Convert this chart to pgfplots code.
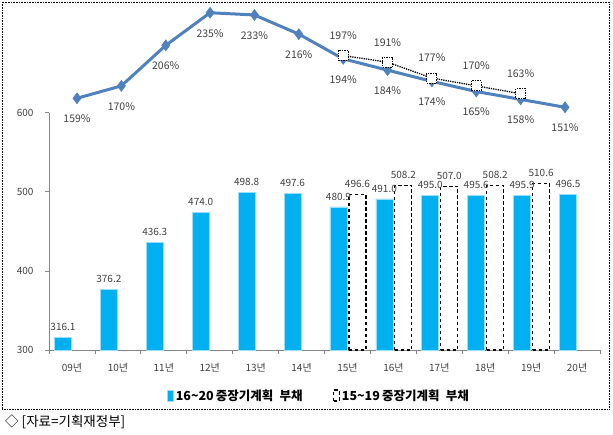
\documentclass[border=0pt]{standalone}
\usepackage{pgfplots}
\pgfplotsset{compat=1.18}
\usepackage{fontspec}
\setmainfont{Noto Sans CJK KR}
\definecolor{barblue}{RGB}{0,176,240}
\definecolor{lineblue}{RGB}{79,129,189}
\definecolor{txt}{RGB}{64,64,64}
\definecolor{axgray}{RGB}{134,134,134}
\begin{document}
\begin{tikzpicture}[x=1pt,y=1pt]
\useasboundingbox (0,0) rectangle (613,434);
\draw[densely dotted, line width=0.6pt] (2,25) rectangle (609,432);
\node[anchor=west, font=\fontsize{13.5}{15}\selectfont, text=black, inner sep=0pt] at (5,12.3) {◇ [자료=기획재정부]};

\begin{axis}[
  at={(49pt,84pt)}, anchor=south west,
  scale only axis, width=551pt, height=237.3pt,
  xmin=-0.5, xmax=11.5, ymin=300, ymax=600,
  axis lines*=left, axis line style={draw=axgray, line width=0.8pt},
  tick align=outside, major tick length=4pt,
  tick style={draw=axgray, line width=0.8pt},
  ytick={300,400,500,600},
  yticklabel style={font=\fontsize{10}{12}\selectfont, text=txt, xshift=-8pt},
  xtick={-0.5,0.5,...,11.5},
  xticklabels={09년,10년,11년,12년,13년,14년,15년,16년,17년,18년,19년,20년,{}},
  xticklabel style={font=\fontsize{10}{12}\selectfont, text=txt, xshift=23pt, yshift=-6pt},
  /pgf/number format/assume math mode=true,
  ybar, bar width=17pt,
  nodes near coords={\pgfmathprintnumber[fixed,fixed zerofill,precision=1]{\pgfplotspointmeta}},
  every node near coord/.append style={font=\fontsize{10}{12}\selectfont, text=txt, anchor=south, yshift=3pt},
  legend style={at={(0.49,-0.194)}, anchor=center, draw=none, fill=none,
    font=\bfseries\fontsize{12.5}{14}\selectfont, text=black,
    /tikz/every even column/.append style={column sep=28pt}},
  legend columns=2,
  legend image code/.code={\draw[#1] (0pt,-5pt) rectangle (6pt,6pt);},
  clip=false,
]
\addplot[bar shift=-9pt, fill=barblue, draw=barblue!40, line width=0.6pt]
coordinates {(0,316.1)(1,376.2)(2,436.3)(3,474.0)(4,498.8)(5,497.6)(6,480.9)(7,491.0)(8,495.0)(9,495.6)(10,495.9)(11,496.5)};
\addlegendentry{16\textasciitilde20\,중장기계획\hspace{0.5em}부채}
\addplot[bar shift=10pt, fill=white, draw=black, dash pattern=on 3.5pt off 2.5pt, line width=1.2pt]
coordinates {(6,496.6)(7,508.2)(8,507.0)(9,508.2)(10,510.6)};
\addlegendentry{15\textasciitilde19\,중장기계획\hspace{0.5em}부채}
\end{axis}

\begin{axis}[
  at={(77pt,325.6pt)}, anchor=south west,
  scale only axis, width=488pt, height=101.3pt,
  xmin=0, xmax=11, ymin=150, ymax=240,
  hide axis, clip=false,
  /pgf/number format/assume math mode=true,
]
\addplot[lineblue, line width=3pt, mark=diamond*, mark size=5.5pt, mark options={solid, fill=lineblue, line width=0.5pt},
  nodes near coords={\pgfmathprintnumber{\pgfplotspointmeta}\%},
  every node near coord/.append style={anchor=center, yshift=-20.5pt, text=txt, font=\fontsize{10.5}{12}\selectfont}]
coordinates {(0,159)(1,170)(2,206)(3,235)(4,233)(5,216)(6,194)(7,184)(8,174)(9,165)(10,158)(11,151)};
\addplot[black, densely dotted, line width=1.3pt, mark=square*, mark size=5pt, mark options={dash pattern=on 1.5pt off 1pt, fill=white, line width=1pt},
  nodes near coords={\pgfmathprintnumber{\pgfplotspointmeta}\%},
  every node near coord/.append style={anchor=center, yshift=20pt, text=txt, font=\fontsize{10.5}{12}\selectfont}]
coordinates {(6,197)(7,191)(8,177)(9,170)(10,163)};
\end{axis}
\end{tikzpicture}
\end{document}
